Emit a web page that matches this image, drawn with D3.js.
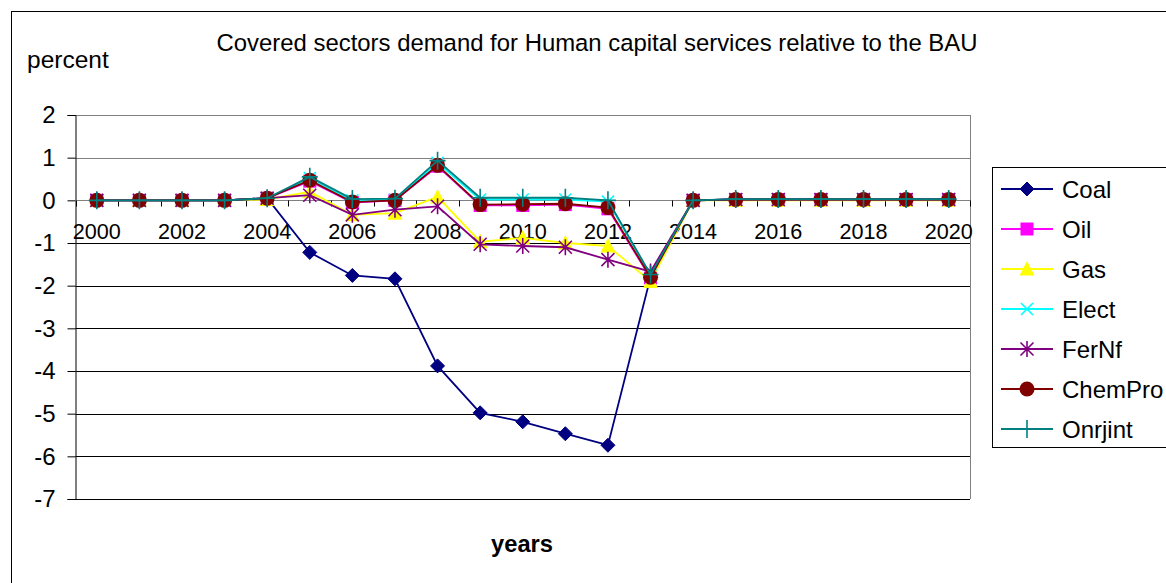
<!DOCTYPE html>
<html><head><meta charset="utf-8">
<script src="https://cdn.jsdelivr.net/npm/d3@7"></script>
<style>body{margin:0;background:#fff}svg{display:block;font-family:"Liberation Sans",Arial,sans-serif}</style>
</head><body><svg id="c" width="1166" height="583"></svg>
<script>
const years = d3.range(2000, 2021).map(String);
const yTicks = [2,1,0,-1,-2,-3,-4,-5,-6,-7];
const xLabels = ["2000","2002","2004","2006","2008","2010","2012","2014","2016","2018","2020"];
const coal    = [0,0,0,0,0.05,-1.22,-1.76,-1.84,-3.88,-4.98,-5.19,-5.47,-5.74,-1.8,0,0.02,0.02,0.02,0.02,0.02,0.02];
const oil     = [0,0,0,0,0.05,0.45,-0.05,0.0,0.8,-0.12,-0.12,-0.1,-0.2,-1.82,0,0.02,0.02,0.02,0.02,0.02,0.02];
const gas     = [0,0,0,0,0.02,0.2,-0.34,-0.3,0.08,-0.97,-0.88,-1.0,-1.07,-1.9,0,0,0,0,0,0,0];
const elect   = [0,0,0,0,0.05,0.52,0.0,0.02,0.88,0.02,0.02,0.02,-0.03,-1.76,0,0.02,0.02,0.02,0.02,0.02,0.02];
const fernf   = [0,0,0,0,0.05,0.12,-0.34,-0.22,-0.14,-1.03,-1.07,-1.1,-1.39,-1.67,0,0.02,0.02,0.02,0.02,0.02,0.02];
const chempro = [0,0,0,0,0.05,0.47,-0.04,0.0,0.82,-0.1,-0.09,-0.08,-0.17,-1.8,0,0.02,0.02,0.02,0.02,0.02,0.02];
const onrjint = [0,0,0,0,0.05,0.55,0.03,0.04,0.93,0.06,0.06,0.06,0.0,-1.74,0,0.03,0.03,0.03,0.03,0.03,0.03];

const series = [
  {name:"Coal", values:coal, color:"#000080", marker:"diamond"},
  {name:"Oil", values:oil, color:"#FF00FF", marker:"square"},
  {name:"Gas", values:gas, color:"#FFFF00", marker:"triangle"},
  {name:"Elect", values:elect, color:"#00FFFF", marker:"x"},
  {name:"FerNf", values:fernf, color:"#800080", marker:"star"},
  {name:"ChemPro", values:chempro, color:"#800000", marker:"circle"},
  {name:"Onrjint", values:onrjint, color:"#008080", marker:"plus"}
];

const svg = d3.select("#c");
const L = 75.5, R = 970, T = 115, B = 499;
const x = d3.scaleBand().domain(years).range([L, R]);
const y = d3.scaleLinear().domain([-7, 2]).range([B, T]);
const cx = d => x(d) + x.bandwidth()/2;

// outer border
svg.append("rect").attr("x",11.5).attr("y",11.5).attr("width",1200).attr("height",600)
  .attr("fill","none").attr("stroke","#000").attr("stroke-width",1);

// title
svg.append("text").attr("x",597).attr("y",51).attr("text-anchor","middle")
  .attr("font-size",23.9).text("Covered sectors demand for Human capital services relative to the BAU");
svg.append("text").attr("x",27).attr("y",68).attr("font-size",24.5).text("percent");
svg.append("text").attr("x",522).attr("y",552).attr("text-anchor","middle")
  .attr("font-size",23.7).attr("font-weight","bold").text("years");

// gridlines
svg.append("g").selectAll("line").data(yTicks).join("line")
  .attr("x1",L).attr("x2",R).attr("y1",d=>Math.round(y(d))+0.5).attr("y2",d=>Math.round(y(d))+0.5)
  .attr("stroke", d => d >= 0 ? "#808080" : "#000").attr("stroke-width",1);
// right border of plot
svg.append("line").attr("x1",R+0.5).attr("x2",R+0.5).attr("y1",T).attr("y2",B).attr("stroke","#808080");

// y axis
const yAxis = d3.axisLeft(y).tickValues(yTicks).tickSize(8).tickPadding(12).tickFormat(d => String(d));
const gy = svg.append("g").attr("transform",`translate(${L},0)`).call(yAxis);
gy.select(".domain").attr("stroke","#000");
gy.selectAll(".tick line").attr("stroke","#000");
gy.selectAll("text").attr("font-size",24).attr("font-family","Liberation Sans, Arial").attr("fill","#000");

// x axis at zero
const y0 = Math.round(y(0))+0.5;
const gx = svg.append("g");
gx.append("line").attr("x1",L).attr("x2",R).attr("y1",y0).attr("y2",y0).attr("stroke","#808080");
gx.selectAll("line.tk").data(d3.range(years.length+1)).join("line").attr("class","tk")
  .attr("x1",i=>Math.round(L + i*x.step())+0.5).attr("x2",i=>Math.round(L + i*x.step())+0.5)
  .attr("y1",y0).attr("y2",y0+6).attr("stroke","#000");
gx.selectAll("text").data(xLabels).join("text")
  .attr("x",d=>cx(d)).attr("y",y0+38).attr("text-anchor","middle").attr("font-size",21.6).text(d=>d);

// lines
const line = d3.line().x((d,i)=>cx(years[i])).y(d=>y(d));
function drawMarker(g, type, color, px, py){
  const s = 7;
  if(type==="diamond"){
    g.append("path").attr("d",`M${px},${py-s}L${px+s},${py}L${px},${py+s}L${px-s},${py}Z`).attr("fill",color).attr("stroke",color);
  } else if(type==="square"){
    g.append("rect").attr("x",px-6.5).attr("y",py-6.5).attr("width",13).attr("height",13).attr("fill",color);
  } else if(type==="triangle"){
    g.append("path").attr("d",`M${px},${py-8}L${px+7.5},${py+6.5}L${px-7.5},${py+6.5}Z`).attr("fill",color);
  } else if(type==="x"){
    g.append("path").attr("d",`M${px-6},${py-6}L${px+6},${py+6}M${px-6},${py+6}L${px+6},${py-6}`).attr("stroke",color).attr("stroke-width",1.6);
  } else if(type==="star"){
    g.append("path").attr("d",`M${px-6.5},${py-6.5}L${px+6.5},${py+6.5}M${px-6.5},${py+6.5}L${px+6.5},${py-6.5}M${px},${py-8}L${px},${py+8}`).attr("stroke",color).attr("stroke-width",1.6);
  } else if(type==="circle"){
    g.append("circle").attr("cx",px).attr("cy",py).attr("r",7.5).attr("fill",color);
  } else if(type==="plus"){
    g.append("path").attr("d",`M${px-8},${py}L${px+8},${py}M${px},${py-9}L${px},${py+9}`).attr("stroke",color).attr("stroke-width",1.6);
  }
}
series.forEach(s=>{
  const g = svg.append("g");
  g.append("path").datum(s.values).attr("d",line).attr("fill","none").attr("stroke",s.color).attr("stroke-width",1.8);
  s.values.forEach((v,i)=>drawMarker(g, s.marker, s.color, cx(years[i]), y(v)));
});

// legend
const lg = svg.append("g");
lg.append("rect").attr("x",992.5).attr("y",167.5).attr("width",200).attr("height",280).attr("fill","#fff").attr("stroke","#000");
series.forEach((s,i)=>{
  const ly = 189 + i*40;
  const g = lg.append("g");
  g.append("line").attr("x1",1001).attr("x2",1053).attr("y1",ly).attr("y2",ly).attr("stroke",s.color).attr("stroke-width",1.8);
  drawMarker(g, s.marker, s.color, 1027, ly);
  g.append("text").attr("x",1062).attr("y",ly+8.5).attr("font-size",24).text(s.name);
});
</script></body></html>
